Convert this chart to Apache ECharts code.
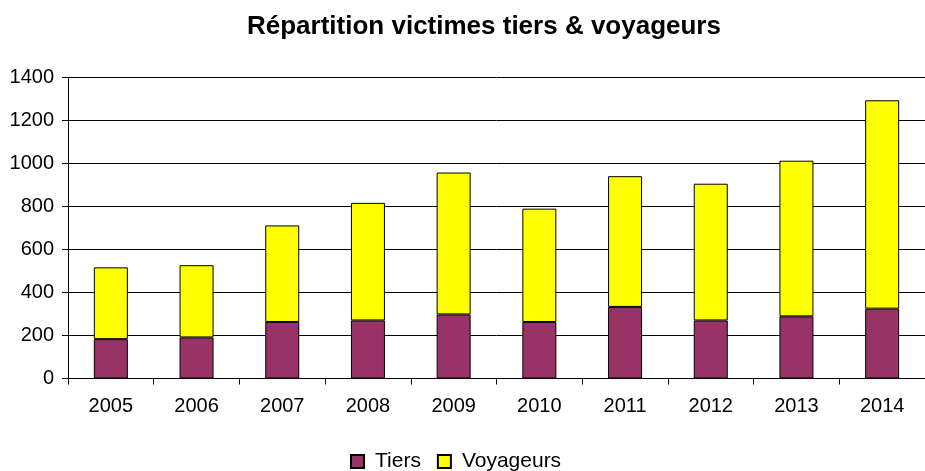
<!DOCTYPE html>
<html>
<head>
<meta charset="utf-8">
<script src="https://cdn.jsdelivr.net/npm/echarts@6/dist/echarts.min.js"></script>
<style>
html,body{margin:0;padding:0;background:#fff;}
#c{width:925px;height:471px;}
</style>
</head>
<body>
<div id="c"></div>
<script>
var categories = ['2005','2006','2007','2008','2009','2010','2011','2012','2013','2014'];
var tiers      = [183, 191, 263, 270, 298, 263, 333, 270, 289, 325];
var voyageurs  = [334, 336, 449, 547, 660, 527, 608, 636, 724, 969];
var yTicks     = [0, 200, 400, 600, 800, 1000, 1200, 1400];

var chart = echarts.init(document.getElementById('c'), null, {renderer: 'canvas'});
var font = 'Arial, "Liberation Sans", sans-serif';
chart.setOption({
  animation: false,
  backgroundColor: '#ffffff',
  title: {
    text: 'Répartition victimes tiers & voyageurs',
    left: 247,
    top: 14,
    padding: 0,
    textStyle: {fontFamily: font, fontSize: 26, fontWeight: 'bold', color: '#000'}
  },
  legend: {
    data: ['Tiers', 'Voyageurs'],
    left: 345,
    top: 446,
    itemWidth: 13,
    itemHeight: 13,
    itemGap: 16,
    icon: 'rect',
    textStyle: {fontFamily: font, fontSize: 21, color: '#000', padding: [0, 0, 0, 6]}
  },
  grid: {left: 68, top: 77.5, right: -9, bottom: 92.5},
  xAxis: {
    type: 'category',
    data: categories,
    axisLine: {lineStyle: {color: '#000', width: 1}},
    axisTick: {show: true, length: 6, alignWithLabel: false, lineStyle: {color: '#000'}},
    axisLabel: {fontFamily: font, fontSize: 20, color: '#000', margin: 18}
  },
  yAxis: {
    type: 'value',
    min: yTicks[0],
    max: yTicks[yTicks.length - 1],
    interval: 200,
    axisLine: {show: true, lineStyle: {color: '#000', width: 1}},
    axisTick: {show: true, length: 6, lineStyle: {color: '#000'}},
    axisLabel: {fontFamily: font, fontSize: 20, color: '#000', margin: 14,
      formatter: function (v) { return String(v); }},
    splitLine: {show: true, lineStyle: {color: '#000', width: 1}}
  },
  series: [
    {
      name: 'Tiers', type: 'bar', stack: 'total', data: tiers, barWidth: 34,
      itemStyle: {color: '#993366', borderColor: '#000', borderWidth: 1}
    },
    {
      name: 'Voyageurs', type: 'bar', stack: 'total', data: voyageurs, barWidth: 34,
      itemStyle: {color: '#ffff00', borderColor: '#000', borderWidth: 1}
    }
  ]
});
</script>
</body>
</html>
